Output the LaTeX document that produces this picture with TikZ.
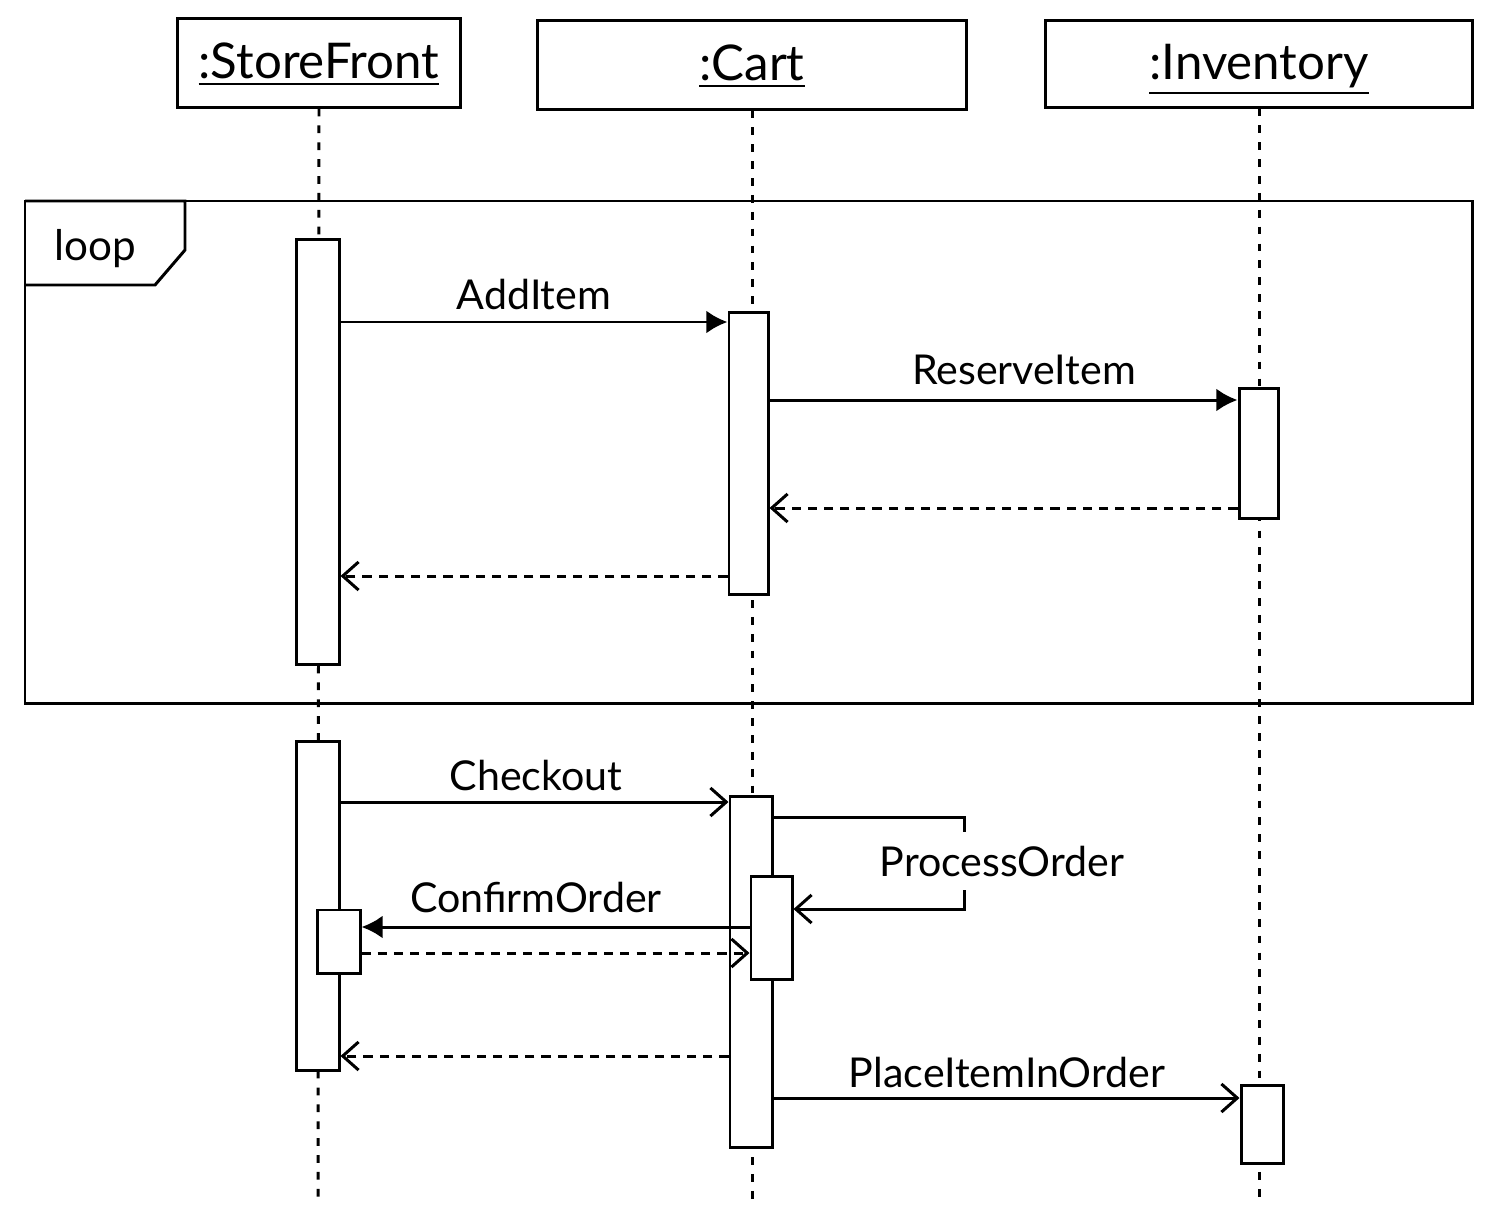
\documentclass[tikz,border=0pt]{standalone}
\usepackage{fontspec}
\setmainfont{Lato}
\usetikzlibrary{arrows.meta}
\begin{document}
\begin{tikzpicture}[x=0.01cm,y=-0.01cm,
  lw/.style={line width=0.85pt},
  headbox/.style={draw,lw,rectangle,inner sep=0pt,font=\fontsize{14}{16}\selectfont,text height=1.2em,text depth=0.3em},
  actbox/.style={draw,lw,fill=white,rectangle,inner sep=0pt},
  lifeline/.style={lw,dash pattern=on 2.2pt off 2.6pt},
  msg/.style={lw,-{Latex[length=6pt,width=6.5pt]}},
  msgopen/.style={lw,-{Straight Barb[length=4.5pt,width=8pt]}},
  ret/.style={lw,dash pattern=on 2.6pt off 2pt,-{Straight Barb[length=4.5pt,width=8pt]}},
  lbl/.style={font=\fontsize{11.7}{14}\selectfont,inner sep=0pt,anchor=base},
]
\useasboundingbox (0,0) rectangle (1500,1224);
% headers
\node[headbox,minimum width=2.82cm,minimum height=0.88cm] (sf) at (319,63) {\underline{:StoreFront}};
\node[headbox,minimum width=4.28cm,minimum height=0.88cm] (cart) at (752,65) {\underline{:Cart}};
\node[headbox,minimum width=4.26cm,minimum height=0.86cm] (inv) at (1259,64) {\underline{:Inventory}};
% lifeline ends
\coordinate (sfend) at (318,1205);
\coordinate (cartend) at (752,1205);
\coordinate (invend) at (1259,1205);
\draw[lifeline] (sf.south) -- (sfend);
\draw[lifeline] (cart.south) -- (cartend);
\draw[lifeline] (inv.south) -- (invend);
% loop frame
\draw[lw,fill=none] (25,201) rectangle (1472,703);
\draw[lw] (25,201) -- (185,201) -- (185,250) -- (155,285) -- (25,285);
\node[lbl,font=\fontsize{12}{14}\selectfont] (looplbl) at (95,260) {loop};
% activations
\node[actbox,minimum width=0.42cm,minimum height=4.24cm] (sfa1) at (318,452) {};
\node[actbox,minimum width=0.39cm,minimum height=2.81cm] (ca1) at (748.5,453.5) {};
\node[actbox,minimum width=0.39cm,minimum height=1.29cm] (ia1) at (1258.5,453.5) {};
\node[actbox,minimum width=0.42cm,minimum height=3.28cm] (sfa2) at (318,906) {};
\node[actbox,minimum width=0.42cm,minimum height=3.50cm] (ca2) at (751,972) {};
\node[actbox,minimum width=0.41cm,minimum height=1.02cm] (ca3) at (771.5,928) {};
\node[actbox,minimum width=0.42cm,minimum height=0.63cm] (sfa3) at (339,941.5) {};
\node[actbox,minimum width=0.42cm,minimum height=0.77cm] (ia2) at (1262,1124.5) {};
% messages in loop
\draw[msg] (sfa1.east |- 0,322) -- (ca1.west |- 0,322);
\node[lbl] (l1) at (534,309) {AddItem};
\draw[msg] (ca1.east |- 0,400) -- (ia1.west |- 0,400);
\node[lbl] (l2) at (1024,384) {ReserveItem};
\draw[ret] (ia1.west |- 0,508) -- (ca1.east |- 0,508);
\draw[ret] (ca1.west |- 0,576) -- (sfa1.east |- 0,576);
% after loop
\draw[msgopen] (sfa2.east |- 0,802) -- (ca2.west |- 0,802);
\node[lbl] (l3) at (536,790) {Checkout};
\coordinate (pcorner1) at (964,817);
\coordinate (pcorner2) at (964,909);
\draw[msgopen] (ca2.east |- 0,817) -- (pcorner1) -- (pcorner2) -- (ca3.east |- 0,909);
\node[lbl,fill=white,inner sep=4pt] (l4) at (1002,876) {ProcessOrder};
\draw[msg] (ca3.west |- 0,927) -- (sfa3.east |- 0,927);
\node[lbl] (l5) at (536,912) {ConfirmOrder};
\draw[ret] (sfa3.east |- 0,953) -- (ca3.west |- 0,953);
\draw[ret] (ca2.west |- 0,1056) -- (sfa2.east |- 0,1056);
\draw[msgopen] (ca2.east |- 0,1098) -- (ia2.west |- 0,1098);
\node[lbl] (l6) at (1007,1087) {PlaceItemInOrder};
\end{tikzpicture}
\end{document}
